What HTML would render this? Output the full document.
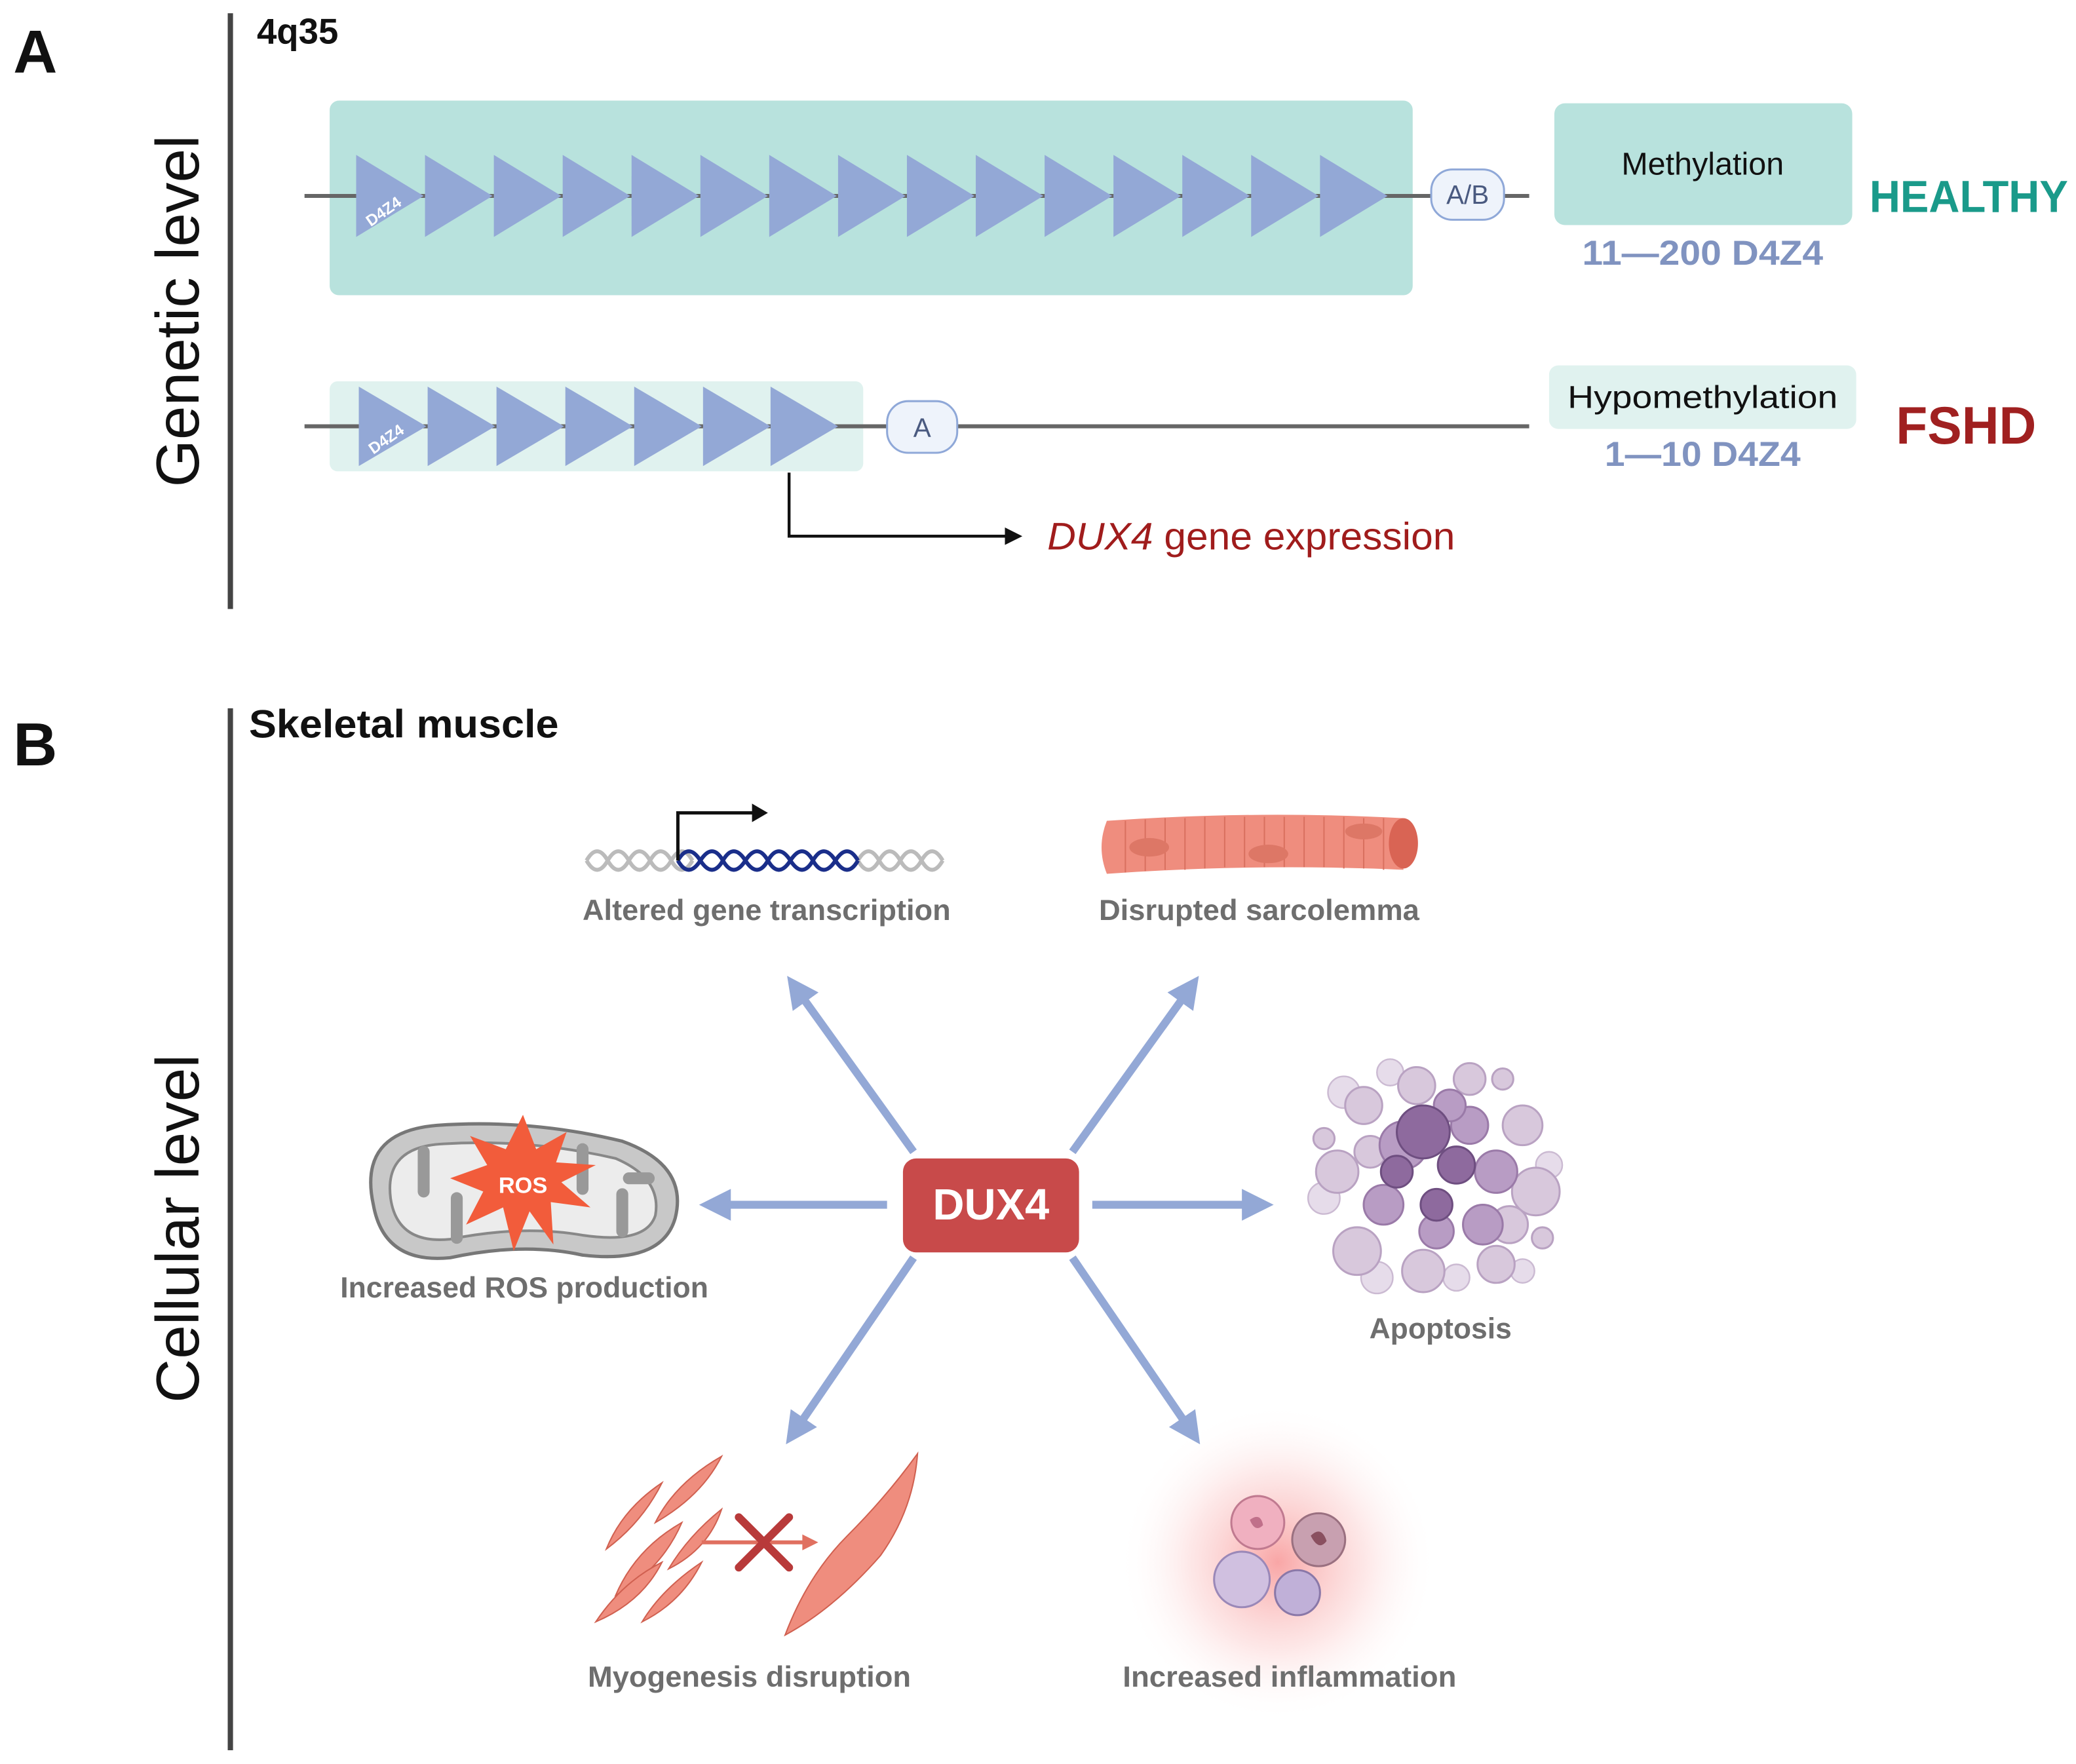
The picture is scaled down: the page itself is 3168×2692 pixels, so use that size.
<!DOCTYPE html>
<html><head><meta charset="utf-8"><style>html,body{margin:0;padding:0;background:#fff}svg{display:block}</style></head>
<body>
<svg xmlns="http://www.w3.org/2000/svg" width="3168" height="2692" viewBox="0 0 1568 1332.4" font-family="Liberation Sans, sans-serif">
<defs>
<radialGradient id="glow" cx="50%" cy="50%" r="50%">
<stop offset="0" stop-color="#f46a6a" stop-opacity="0.6"/>
<stop offset="0.55" stop-color="#f8a0a0" stop-opacity="0.25"/>
<stop offset="1" stop-color="#fff" stop-opacity="0"/>
</radialGradient>
<marker id="ah" markerWidth="4" markerHeight="4" refX="3" refY="2" orient="auto" markerUnits="strokeWidth"><path d="M0,0 L4,2 L0,4 z" fill="#93a8d6"/></marker>
<marker id="bk" markerWidth="6" markerHeight="6" refX="5" refY="3" orient="auto" markerUnits="strokeWidth"><path d="M0,0 L6,3 L0,6 z" fill="#111"/></marker>
</defs>
<rect width="1568" height="1332.4" fill="#fff"/>
<!-- Panel A -->
<text x="10" y="55" font-size="46" font-weight="bold" fill="#111">A</text>
<rect x="172" y="10" width="4" height="450" fill="#444"/>
<text x="194" y="33" font-size="27" font-weight="bold" fill="#111">4q35</text>
<text transform="translate(150,235) rotate(-90)" text-anchor="middle" font-size="46" fill="#111">Genetic level</text>

<rect x="249" y="76" width="818" height="147" rx="7" fill="#b8e2dd"/>
<line x1="230" y1="148" x2="1155" y2="148" stroke="#666" stroke-width="3"/>
<g fill="#93a8d6">
<polygon points="269,117 320,148 269,179"/><polygon points="321,117 372,148 321,179"/><polygon points="373,117 424,148 373,179"/><polygon points="425,117 476,148 425,179"/><polygon points="477,117 528,148 477,179"/><polygon points="529,117 580,148 529,179"/><polygon points="581,117 632,148 581,179"/><polygon points="633,117 684,148 633,179"/><polygon points="685,117 736,148 685,179"/><polygon points="737,117 788,148 737,179"/><polygon points="789,117 840,148 789,179"/><polygon points="841,117 892,148 841,179"/><polygon points="893,117 944,148 893,179"/><polygon points="945,117 996,148 945,179"/><polygon points="997,117 1048,148 997,179"/>
</g>
<text transform="translate(292,163) rotate(-35)" text-anchor="middle" font-size="12" font-weight="bold" fill="#fff">D4Z4</text>
<rect x="1081" y="128" width="55" height="38" rx="16" fill="#eef3fb" stroke="#8fa8d8" stroke-width="1.5"/>
<text x="1108.5" y="154" text-anchor="middle" font-size="20" fill="#4a5a80">A/B</text>
<rect x="1174" y="78" width="225" height="92" rx="8" fill="#b8e2dd"/>
<text x="1286" y="132" text-anchor="middle" font-size="24" fill="#111">Methylation</text>
<text x="1286" y="200" text-anchor="middle" font-size="26" font-weight="bold" fill="#8093c0" textLength="182" lengthAdjust="spacingAndGlyphs">11—200 D4Z4</text>
<text x="1412" y="160" font-size="34" font-weight="bold" fill="#1a9a8a" textLength="150" lengthAdjust="spacingAndGlyphs">HEALTHY</text>

<rect x="249" y="288" width="403" height="68" rx="6" fill="#e0f2ef"/>
<line x1="230" y1="322" x2="1155" y2="322" stroke="#666" stroke-width="3"/>
<g fill="#93a8d6">
<polygon points="271,292 322,322 271,352"/><polygon points="323,292 374,322 323,352"/><polygon points="375,292 426,322 375,352"/><polygon points="427,292 478,322 427,352"/><polygon points="479,292 530,322 479,352"/><polygon points="531,292 582,322 531,352"/><polygon points="582,292 633,322 582,352"/>
</g>
<text transform="translate(294,335) rotate(-35)" text-anchor="middle" font-size="12" font-weight="bold" fill="#fff">D4Z4</text>
<rect x="670" y="303" width="53" height="39" rx="16" fill="#eef3fb" stroke="#8fa8d8" stroke-width="1.5"/>
<text x="696.5" y="330" text-anchor="middle" font-size="20" fill="#4a5a80">A</text>
<rect x="1170" y="276" width="232" height="48" rx="7" fill="#e0f2ef"/>
<text x="1286" y="308" text-anchor="middle" font-size="24" fill="#111" textLength="204" lengthAdjust="spacingAndGlyphs">Hypomethylation</text>
<text x="1286" y="352" text-anchor="middle" font-size="26" font-weight="bold" fill="#8093c0" textLength="148" lengthAdjust="spacingAndGlyphs">1—10 D4Z4</text>
<text x="1432" y="335" font-size="40" font-weight="bold" fill="#a02020" textLength="106" lengthAdjust="spacingAndGlyphs">FSHD</text>
<path d="M596,357 V405 H770" fill="none" stroke="#111" stroke-width="2.2" marker-end="url(#bk)"/>
<text x="791" y="415" font-size="29" fill="#a01c1c" textLength="308" lengthAdjust="spacingAndGlyphs"><tspan font-style="italic">DUX4</tspan> gene expression</text>

<!-- Panel B -->
<text x="10" y="578" font-size="46" font-weight="bold" fill="#111">B</text>
<rect x="172" y="535" width="4" height="787" fill="#444"/>
<text x="188" y="557" font-size="30" font-weight="bold" fill="#111" textLength="234" lengthAdjust="spacingAndGlyphs">Skeletal muscle</text>
<text transform="translate(150,928) rotate(-90)" text-anchor="middle" font-size="46" fill="#111">Cellular level</text>

<!-- glow -->
<circle cx="965" cy="1180" r="120" fill="url(#glow)"/>

<!-- arrows -->
<g stroke="#93a8d6" stroke-width="6" fill="none" stroke-linecap="butt">
<line x1="690" y1="870" x2="598" y2="742" marker-end="url(#ah)"/>
<line x1="810" y1="870" x2="902" y2="742" marker-end="url(#ah)"/>
<line x1="670" y1="910" x2="534" y2="910" marker-end="url(#ah)"/>
<line x1="825" y1="910" x2="956" y2="910" marker-end="url(#ah)"/>
<line x1="690" y1="950" x2="597" y2="1086" marker-end="url(#ah)"/>
<line x1="810" y1="950" x2="903" y2="1086" marker-end="url(#ah)"/>
</g>
<rect x="682" y="875" width="133" height="71" rx="10" fill="#c84a4a"/>
<text x="748.5" y="921" text-anchor="middle" font-size="33" font-weight="bold" fill="#fff">DUX4</text>

<!-- DNA -->
<path d="M443,650 q8,-14 16,0 t16,0 t16,0 t16,0 t16,0 M443,650 q8,14 16,0 t16,0 t16,0 t16,0 t16,0" fill="none" stroke="#bbb" stroke-width="3"/>
<path d="M648,650 q8,-14 16,0 t16,0 t16,0 t16,0 M648,650 q8,14 16,0 t16,0 t16,0 t16,0" fill="none" stroke="#bbb" stroke-width="3"/>
<path d="M512,650 q8,-14 17,0 t17,0 t17,0 t17,0 t17,0 t17,0 t17,0 t17,0 M512,650 q8,14 17,0 t17,0 t17,0 t17,0 t17,0 t17,0 t17,0 t17,0" fill="none" stroke="#1a2e8a" stroke-width="3"/>
<path d="M512,650 V614 H570" fill="none" stroke="#111" stroke-width="2.5"/>
<path d="M568,607 L580,614 L568,621 z" fill="#111"/>
<text x="579" y="695" text-anchor="middle" font-size="22" font-weight="bold" fill="#6e6e6e" textLength="278" lengthAdjust="spacingAndGlyphs">Altered gene transcription</text>

<!-- muscle fiber -->
<path d="M836,620 Q950,612 1060,618 L1060,657 Q950,652 836,660 Q828,640 836,620 z" fill="#ef8d7e"/>
<ellipse cx="1060" cy="637" rx="11" ry="19" fill="#d96454"/>
<g stroke="#d9705f" stroke-width="1">
<line x1="850" y1="620" x2="850" y2="659"/><line x1="865" y1="619" x2="865" y2="658"/><line x1="880" y1="618" x2="880" y2="657"/><line x1="895" y1="618" x2="895" y2="657"/><line x1="910" y1="617" x2="910" y2="656"/><line x1="925" y1="617" x2="925" y2="655"/><line x1="940" y1="617" x2="940" y2="655"/><line x1="955" y1="617" x2="955" y2="655"/><line x1="970" y1="617" x2="970" y2="655"/><line x1="985" y1="617" x2="985" y2="655"/><line x1="1000" y1="617" x2="1000" y2="655"/><line x1="1015" y1="617" x2="1015" y2="656"/><line x1="1030" y1="618" x2="1030" y2="656"/><line x1="1045" y1="618" x2="1045" y2="657"/>
</g>
<ellipse cx="868" cy="640" rx="15" ry="7" fill="#dd7766"/><ellipse cx="958" cy="645" rx="15" ry="7" fill="#dd7766"/><ellipse cx="1030" cy="628" rx="14" ry="6" fill="#dd7766"/>
<text x="951" y="695" text-anchor="middle" font-size="22" font-weight="bold" fill="#6e6e6e" textLength="242" lengthAdjust="spacingAndGlyphs">Disrupted sarcolemma</text>

<!-- mitochondria -->
<path d="M282,910 Q270,855 330,850 Q400,845 470,862 Q520,880 510,920 Q500,955 440,948 Q395,938 340,950 Q290,955 282,910 z" fill="#c8c8c8" stroke="#777" stroke-width="2.5"/>
<path d="M295,905 Q290,866 335,864 Q400,860 465,875 Q500,890 495,918 Q488,940 440,933 Q395,925 340,936 Q300,940 295,905 z" fill="#ececec" stroke="#888" stroke-width="2"/>
<g fill="none" stroke="#999" stroke-width="9" stroke-linecap="round">
<path d="M320,870 v30"/><path d="M345,935 v-30"/><path d="M440,868 v30"/><path d="M470,930 v-28"/><path d="M490,890 h-15"/>
</g>
<polygon points="395,842 405,868 428,855 420,878 450,880 424,893 446,912 416,908 418,940 400,915 388,945 380,912 352,925 365,900 340,890 368,880 355,858 382,868" fill="#f25c3b"/>
<text x="395" y="901" text-anchor="middle" font-size="17" font-weight="bold" fill="#fff">ROS</text>
<text x="396" y="980" text-anchor="middle" font-size="22" font-weight="bold" fill="#6e6e6e" textLength="278" lengthAdjust="spacingAndGlyphs">Increased ROS production</text>

<!-- apoptosis -->
<g fill="#e6dcea" stroke="#cbbad2" stroke-width="1.2">
<circle cx="1015" cy="825" r="12"/><circle cx="1000" cy="905" r="12"/><circle cx="1040" cy="965" r="12"/><circle cx="1100" cy="965" r="10"/><circle cx="1170" cy="880" r="10"/><circle cx="1050" cy="810" r="10"/><circle cx="1150" cy="960" r="9"/>
</g>
<g fill="#d8c8dc" stroke="#b9a2c2" stroke-width="1.5">
<circle cx="1030" cy="835" r="14"/><circle cx="1010" cy="885" r="16"/><circle cx="1025" cy="945" r="18"/><circle cx="1075" cy="960" r="16"/><circle cx="1130" cy="955" r="14"/><circle cx="1160" cy="900" r="18"/><circle cx="1150" cy="850" r="15"/><circle cx="1110" cy="815" r="12"/><circle cx="1070" cy="820" r="14"/><circle cx="1000" cy="860" r="8"/><circle cx="1135" cy="815" r="8"/><circle cx="1165" cy="935" r="8"/><circle cx="1140" cy="925" r="14"/><circle cx="1035" cy="870" r="12"/>
</g>
<g fill="#b89cc4" stroke="#9a7aa8" stroke-width="1.5">
<circle cx="1060" cy="865" r="18"/><circle cx="1110" cy="850" r="14"/><circle cx="1130" cy="885" r="16"/><circle cx="1045" cy="910" r="15"/><circle cx="1120" cy="925" r="15"/><circle cx="1085" cy="930" r="13"/><circle cx="1095" cy="835" r="12"/>
</g>
<g fill="#8e6a9e" stroke="#6e4e80" stroke-width="1.5">
<circle cx="1075" cy="855" r="20"/><circle cx="1100" cy="880" r="14"/><circle cx="1055" cy="885" r="12"/><circle cx="1085" cy="910" r="12"/>
</g>
<text x="1088" y="1011" text-anchor="middle" font-size="22" font-weight="bold" fill="#6e6e6e">Apoptosis</text>

<!-- myogenesis -->
<g fill="#ef8d7e" stroke="#d06050" stroke-width="1">
<path d="M458,1170 Q470,1140 500,1120 Q485,1150 458,1170 z"/>
<path d="M465,1205 Q480,1170 515,1150 Q500,1185 465,1205 z"/>
<path d="M495,1150 Q510,1120 545,1100 Q530,1130 495,1150 z"/>
<path d="M450,1225 Q470,1195 500,1180 Q485,1210 450,1225 z"/>
<path d="M505,1185 Q520,1160 545,1140 Q535,1170 505,1185 z"/>
<path d="M485,1225 Q500,1200 530,1180 Q515,1210 485,1225 z"/>
<path d="M593,1235 Q610,1190 640,1160 Q670,1130 693,1098 Q690,1140 665,1175 Q630,1215 593,1235 z"/>
</g>
<line x1="530" y1="1165" x2="608" y2="1165" stroke="#e07060" stroke-width="3"/>
<path d="M606,1159 L618,1165 L606,1171 z" fill="#e07060"/>
<path d="M558,1146 L596,1184 M596,1146 L558,1184" stroke="#b83a3a" stroke-width="6" stroke-linecap="round"/>
<text x="566" y="1274" text-anchor="middle" font-size="22" font-weight="bold" fill="#6e6e6e" textLength="244" lengthAdjust="spacingAndGlyphs">Myogenesis disruption</text>

<!-- inflammation cells -->
<circle cx="950" cy="1150" r="20" fill="#f0b0c0" stroke="#c07a90" stroke-width="1.5"/>
<circle cx="996" cy="1163" r="20" fill="#c8a0b0" stroke="#9a7080" stroke-width="1.5"/>
<circle cx="938" cy="1193" r="21" fill="#d0c0e0" stroke="#9a88b8" stroke-width="1.5"/>
<circle cx="980" cy="1203" r="17" fill="#c0b0d8" stroke="#8a78a8" stroke-width="1.5"/>
<path d="M944,1148 q8,-6 10,4 q-6,6 -10,-4" fill="#c0708a"/><path d="M990,1160 q8,-8 12,4 q-6,8 -12,-4" fill="#8a5060"/>
<text x="974" y="1274" text-anchor="middle" font-size="22" font-weight="bold" fill="#6e6e6e" textLength="252" lengthAdjust="spacingAndGlyphs">Increased inflammation</text>
</svg>
</body></html>
